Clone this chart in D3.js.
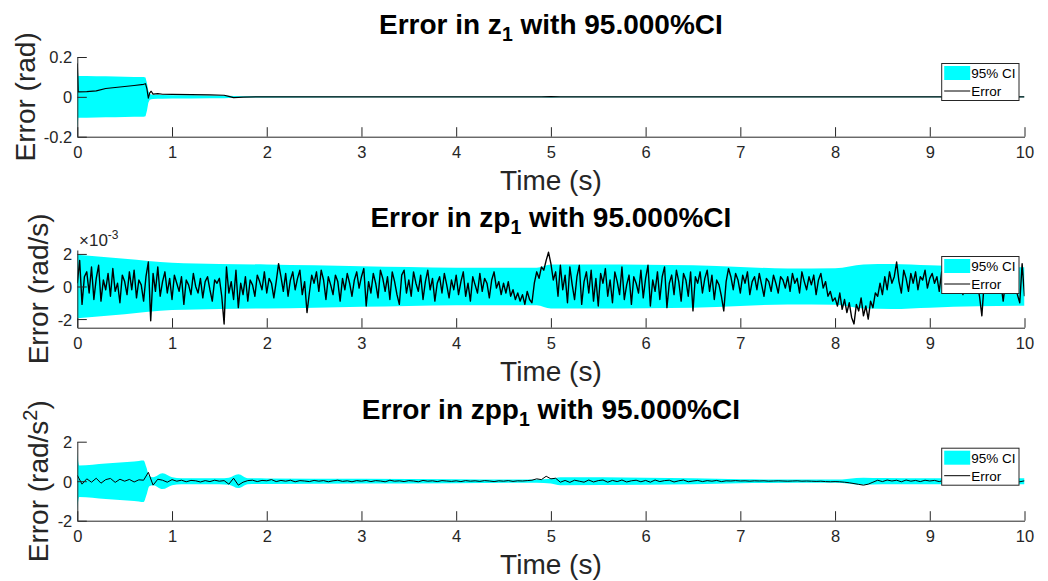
<!DOCTYPE html>
<html>
<head>
<meta charset="utf-8">
<script src="https://cdnjs.cloudflare.com/ajax/libs/d3/7.8.5/d3.min.js"></script>
<style>
	body { margin: 0; background: #fff; }
	svg { display: block; font-family: "Liberation Sans", Arial, Helvetica, sans-serif; }
</style>
</head>
<body>
<svg id="chart" width="1048" height="581"></svg>
<script>
'use strict';

// Shared time axis ticks (s)
var timeTicks = [0, 1, 2, 3, 4, 5, 6, 7, 8, 9, 10];

// Panel 1: error in z1 (rad) and its 95% CI half-width
var z1Time = [0, 0.01, 0.1, 0.2, 0.3, 0.4, 0.5, 0.6, 0.7, 0.72,
	0.735, 0.75, 0.765, 0.78, 0.8, 0.85, 0.9, 1.0, 1.2, 1.4,
	1.55, 1.6, 1.65, 1.75, 2, 3, 4, 4.9, 5.0, 5.1,
	6, 7, 8, 9, 10];
var z1Err = [0.168, 0.025, 0.026, 0.03, 0.042, 0.047, 0.052, 0.057, 0.063, 0.066,
	0.04, -0.006, 0.02, 0.028, 0.014, 0.016, 0.013, 0.012, 0.011, 0.01,
	0.008, 0.002, -0.004, -0.001, 0, 0, 0, 0, 0.001, 0,
	0, 0, 0, 0, 0];
var z1Ci = [0.175, 0.105, 0.105, 0.104, 0.103, 0.102, 0.101, 0.1, 0.1, 0.097,
	0.07, 0.03, 0.015, 0.012, 0.011, 0.01, 0.009, 0.008, 0.008, 0.007,
	0.007, 0.006, 0.004, 0.003, 0.003, 0.002, 0.002, 0.002, 0.003, 0.002,
	0.002, 0.002, 0.002, 0.002, 0.002];

// Panel 2: error in zp1 (x1e-3 rad/s), sampled every 0.025 s
var zpDt = 0.025;
var zpErr = [
	0.2, 1.6, -1.1, 0.6, 0.9, -0.4, 1.2, -0.8, 0.5, 1.3, -0.9, 0.4, -0.2, 0.8, -0.6, 1.1, -0.3, 0.2, -1.0, 0.7,
	0.3, -0.5, 0.9, -0.2, 1.0, -0.7, 0.4, 0.1, -0.9, 0.6, 1.5, -2.1, 0.8, -0.3, 1.2, -0.6, 0.3, 0.9, -0.4, 0.5,
	-0.8, 0.7, 0.2, -0.3, 0.6, -1.1, 0.4, 0.1, -0.5, 0.8, 0.0, -0.4, 0.5, -0.7, 0.3, 0.6, -0.2, -0.9, 0.4, 0.2,
	0.5, -0.6, -2.3, 1.2, -0.4, 0.3, -0.8, 1.0, -1.3, 0.2, -0.5, 0.6, -0.9, 0.4, 0.1, -0.6, 0.7, 0.3, -0.2, 0.9,
	-0.4, 0.5, 0.2, -0.7, 0.3, 1.4, 0.6, -0.3, 0.8, -0.6, 0.4, 0.9, -0.2, 0.5, 1.0, -0.5, 0.3, -1.6, -0.4, 0.7,
	0.2, 0.9, -0.3, 1.0, 0.4, -0.8, 0.6, 0.1, -0.5, 0.7, 0.3, -0.9, 0.5, -0.2, 0.8, 0.2, -0.6, 0.4, 0.9, -0.1,
	0.6, 1.1, -1.2, 0.3, -0.4, 0.8, 0.2, -0.7, 1.0, 0.5, -0.3, 0.6, -0.8, 0.9, 0.3, -0.5, -1.1, 0.7, 1.0, -0.4,
	0.4, -0.6, 0.9, 0.2, -0.3, 0.7, -0.8, 0.3, 1.0, -0.2, 0.5, -0.9, 0.2, 0.6, -0.4, 0.8, 0.1, -0.7, 0.4, -0.2,
	0.7, -0.5, 0.3, 0.9, -0.6, 0.2, -0.9, 0.6, 0.1, -0.4, 0.8, -0.3, 0.5, 0.2, -0.7, 0.4, 0.9, -0.1, 0.3, -0.5,
	0.2, -0.4, 0.3, -0.6, -0.2, -0.8, -0.4, -0.9, -0.5, -1.1, -0.3, -0.8, -1.0, 0.2, 0.9, 0.5, 1.2, 1.0, 1.6, 2.1,
	1.4, 0.4, 0.9, -0.6, 1.3, -0.2, 0.7, -1.0, 1.2, 0.1, -0.8, 0.6, 1.3, -1.1, 0.3, 0.9, -0.4, 1.0, -0.9, 0.5,
	-1.2, 0.8, 0.2, 1.1, -0.6, 0.4, -1.0, 0.9, 0.3, -0.5, 1.2, -0.8, 0.1, 0.7, -1.1, 0.6, 0.2, -0.4, 1.0, -0.7,
	0.5, 1.3, -1.2, 0.4, -0.3, 0.9, -0.8, 0.6, 1.2, -1.3, 0.2, 0.7, -0.5, 1.0, 0.3, -0.9, 0.8, 0.4, -0.6, 0.9,
	-1.5, 0.6, 0.2, 0.9, -0.4, 0.5, 1.0, -0.3, 0.7, -0.8, 0.4, 0.1, -0.6, -1.5, 0.3, 1.1, 0.6, -0.2, 0.8, 0.4,
	-0.4, 0.7, 0.2, 0.9, -0.5, 0.3, 0.6, -0.2, 0.8, 0.1, -0.6, 0.5, 0.3, -0.3, 0.7, 0.2, -0.4, 0.6, 0.4, -0.1,
	0.6, -0.3, 0.8, 0.2, 0.5, -0.4, 0.9, 0.3, -0.2, 0.6, 0.1, 0.7, -0.5, 0.4, 0.8, -0.1, 0.3, -0.6, -0.3, -0.9,
	-0.7, -1.2, -0.4, -1.4, -0.8, -1.6, -1.0, -1.9, -2.3, -1.1, -1.5, -0.7, -1.8, -1.2, -2.0, -0.9, -1.3, -0.4, -0.6, 0.2,
	-0.5, 0.6, -0.2, 0.9, 0.2, 0.6, 1.5, 0.3, -0.4, 1.0, 0.5, -0.3, 0.8, 0.2, 0.9, -0.2, 0.6, 0.4, 1.0, -0.1,
	0.5, 0.8, 0.2, 0.6, -0.3, 0.9, 0.4, 0.1, 0.7, 0.3, -0.2, 0.5, 0.8, 0.2, -0.5, 0.4, 0.6, 0.0, 0.3, -0.4,
	0.2, -0.6, -1.8, 0.3, 0.5, -0.2, 0.4, 0.1, -0.3, 0.6, 0.2, -0.9, 0.3, 0.5, -0.4, 0.2, 0.6, -0.5, -1.0, 1.4,
	-0.6
];
var zpCiTime = [0, 0.5, 1, 1.5, 2, 2.5, 3, 3.5, 4, 4.5, 4.85, 5.0, 5.5, 6, 6.5, 7, 7.5, 8, 8.3, 8.6, 9, 9.5, 10];
var zpCi = [1.95, 1.7, 1.45, 1.38, 1.35, 1.3, 1.25, 1.2, 1.15, 1.15, 1.15, 1.35, 1.35, 1.33, 1.3, 1.2, 1.1, 1.12, 1.35, 1.38, 1.3, 1.22, 1.18];

// Panel 3: error in zpp1 (rad/s^2), sampled every 0.05 s
var zppDt = 0.05;
var zppErr = [
	0.3, -0.15, 0.12, -0.05, 0.15, -0.1, 0.08, 0.14, -0.06, 0.1, 0.0, 0.09, -0.04, 0.07, 0.05, 0.45, -0.2, 0.1, 0.05, -0.05,
	0.08, 0.0, 0.05, -0.03, 0.04, 0.02, -0.04, 0.03, -0.02, 0.05, 0.0, 0.03, -0.15, 0.15, -0.2, -0.05, 0.03, 0.05, -0.02, 0.04,
	0.02, 0.08, -0.02, 0.04, 0.0, 0.05, -0.03, 0.03, 0.01, -0.02, 0.04, 0.0, 0.03, -0.03, 0.02, 0.05, -0.01, 0.02, -0.03, 0.03,
	0.0, 0.04, -0.02, 0.03, 0.01, -0.03, 0.05, 0.0, 0.02, -0.02, 0.03, 0.01, -0.03, 0.04, 0.0, 0.02, -0.02, 0.03, 0.01, -0.01,
	0.02, -0.02, 0.03, 0.0, 0.02, -0.01, 0.03, 0.01, -0.02, 0.02, 0.0, 0.03, -0.01, 0.02, 0.01, 0.03, 0.05, 0.12, 0.08, 0.25,
	0.12, 0.15, -0.05, 0.04, -0.06, 0.05, 0.0, -0.05, 0.06, -0.04, 0.03, 0.06, -0.05, 0.04, -0.02, 0.06, -0.04, 0.02, 0.05, -0.03,
	0.04, -0.05, 0.06, -0.02, 0.03, 0.05, -0.04, 0.02, 0.06, -0.03, 0.01, 0.04, -0.02, 0.03, 0.0, 0.04, -0.02, 0.02, 0.01, 0.03,
	0.01, 0.02, 0.0, 0.02, 0.01, 0.02, 0.0, 0.01, 0.02, 0.01, 0.0, 0.01, 0.02, 0.0, 0.01, 0.0, -0.01, 0.0, -0.02, -0.03,
	-0.02, -0.03, -0.05, -0.08, -0.12, -0.16, -0.2, -0.15, -0.05, 0.05, -0.02, 0.06, 0.01, 0.05, -0.03, 0.06, 0.0, 0.04, -0.02, 0.05,
	0.01, 0.04, -0.02, 0.05, 0.0, 0.03, -0.02, 0.04, 0.01, 0.03, 0.0, 0.02, 0.01, 0.03, 0.0, 0.02, 0.04, -0.02, 0.06, -0.03,
	0.02
];
var zppCiTime = [0, 0.005, 0.02, 0.3, 0.6, 0.7, 0.73, 0.76, 0.8, 0.9, 1.0, 1.1, 1.5, 1.6, 1.7, 1.8, 2, 3, 4, 4.85, 5.0, 5.1, 6, 6.5, 7, 8, 8.3, 8.5, 9, 10];
var zppCi = [1.5, 1.2, 0.8, 0.9, 1.0, 1.05, 0.7, 0.25, 0.2, 0.4, 0.2, 0.15, 0.15, 0.18, 0.35, 0.15, 0.14, 0.12, 0.1, 0.08, 0.12, 0.2, 0.18, 0.15, 0.1, 0.08, 0.18, 0.16, 0.15, 0.15];

var legendLabels = ['95% CI', 'Error'];



function toPoints(times, values) {
	return values.map(function(v, i) { return {t: times[i], v: v}; });
}
function sampled(dt, values) {
	return values.map(function(v, i) { return {t: i * dt, v: v}; });
}

var panels = [
	{
		name: 'z', top: 57, bottom: 136.7, yDomain: [-0.2, 0.2], yTicks: [-0.2, 0, 0.2],
		err: toPoints(z1Time, z1Err), ci: toPoints(z1Time, z1Ci), curve: d3.curveLinear,
		ylabel: ['Error (rad)'], ylabelX: 35, lineWidth: 1.2
	},
	{
		name: 'zp', top: 250, bottom: 327.7, yDomain: [-2.53, 2.24], yTicks: [-2, 0, 2],
		err: sampled(zpDt, zpErr), ci: toPoints(zpCiTime, zpCi), curve: d3.curveMonotoneX,
		ylabel: ['Error (rad/s)'], ylabelX: 48, lineWidth: 1.4, exponent: true
	},
	{
		name: 'zpp', top: 441.7, bottom: 520.7, yDomain: [-2, 2], yTicks: [-2, 0, 2],
		err: sampled(zppDt, zppErr), ci: toPoints(zppCiTime, zppCi), curve: d3.curveMonotoneX,
		ylabel: ['Error (rad/s', '2', ')'], ylabelX: 48, lineWidth: 1
	}
];

var svg = d3.select('#chart');
var axisColor = '#262626';
var x = d3.scaleLinear().domain([0, 10]).range([77.3, 1024.5]);

panels.forEach(function(p, k) {

	var y = d3.scaleLinear().domain(p.yDomain).range([p.bottom, p.top]);
	var g = svg.append('g').attr('class', 'panel ' + p.name);

	// Clip marks to the axes box.
	g.append('clipPath').attr('id', 'clip' + k)
		.append('rect')
		.attr('x', x(0)).attr('y', p.top)
		.attr('width', x(10) - x(0)).attr('height', p.bottom - p.top);

	var marks = g.append('g').attr('clip-path', 'url(#clip' + k + ')');

	// CI band
	marks.append('path')
		.datum(p.ci)
		.attr('fill', '#00ffff')
		.attr('d', d3.area()
			.curve(p.curve)
			.x(function(d) { return x(d.t); })
			.y0(function(d) { return y(-d.v); })
			.y1(function(d) { return y(d.v); }));

	// Error line
	marks.append('path')
		.datum(p.err)
		.attr('fill', 'none')
		.attr('stroke', '#000')
		.attr('stroke-width', p.lineWidth)
		.attr('stroke-linejoin', 'round')
		.attr('d', d3.line()
			.x(function(d) { return x(d.t); })
			.y(function(d) { return y(d.v); }));

	// Axes, ticks pointing inward
	var xAxis = g.append('g')
		.attr('transform', 'translate(0,' + p.bottom + ')')
		.call(d3.axisBottom(x).tickValues(timeTicks).tickSizeInner(-9.5).tickSizeOuter(0).tickPadding(10)
			.tickFormat(d3.format('d')));
	var yAxis = g.append('g')
		.attr('transform', 'translate(' + x(0) + ',0)')
		.call(d3.axisLeft(y).tickValues(p.yTicks).tickSizeInner(-9.5).tickSizeOuter(0).tickPadding(5)
			.tickFormat(function(d) { return String(d).replace('\u2212', '-'); }));

	[xAxis, yAxis].forEach(function(a) {
		a.select('.domain').attr('stroke', axisColor).attr('stroke-width', 1);
		a.selectAll('.tick line').attr('stroke', axisColor).attr('stroke-width', 1);
		a.selectAll('.tick text').attr('fill', axisColor).attr('font-size', 16.5)
			.attr('font-family', '"Liberation Sans", Arial, sans-serif');
	});
	xAxis.selectAll('.tick text').attr('dy', 0).attr('y', 21.8);
	yAxis.selectAll('.tick text').attr('dy', '0.36em');

	// Exponent label
	if (p.exponent) {
		var ex = g.append('text').attr('x', 79).attr('y', p.top - 4)
			.attr('font-size', 17).attr('fill', axisColor).text('\u00d710');
		ex.append('tspan').attr('dy', -7).attr('font-size', 12).text('-3');
	}

	// X label
	g.append('text')
		.attr('x', (x(0) + x(10)) / 2).attr('y', p.bottom + 53)
		.attr('text-anchor', 'middle').attr('font-size', 28).attr('fill', axisColor)
		.text('Time (s)');

	// Y label
	var yl = g.append('text')
		.attr('transform', 'translate(' + p.ylabelX + ',' + (p.top + p.bottom) / 2 + ') rotate(-90)')
		.attr('text-anchor', 'middle').attr('font-size', 28).attr('fill', axisColor)
		.text(p.ylabel[0]);
	if (p.ylabel.length > 1) {
		yl.append('tspan').attr('dy', -11).attr('font-size', 20).text(p.ylabel[1]);
		yl.append('tspan').attr('dy', 11).text(p.ylabel[2]);
	}

	// Title with subscript
	var title = g.append('text')
		.attr('x', (x(0) + x(10)) / 2).attr('y', p.top - 23)
		.attr('text-anchor', 'middle').attr('font-size', 28).attr('font-weight', 'bold').attr('fill', '#000')
		.text('Error in ' + p.name);
	title.append('tspan').attr('dy', 7).attr('font-size', 19.5).text('1');
	title.append('tspan').attr('dy', -7).text(' with 95.000%CI');

	// Legend, north-east
	var lg = g.append('g').attr('transform', 'translate(941.7,' + (p.top + 6.5) + ')');
	lg.append('rect').attr('width', 77.3).attr('height', 37)
		.attr('fill', '#fff').attr('stroke', '#262626').attr('stroke-width', 1);
	lg.append('rect').attr('x', 2.5).attr('y', 2.5).attr('width', 26).attr('height', 14).attr('fill', '#00ffff');
	lg.append('line').attr('x1', 2.5).attr('x2', 28.5).attr('y1', 27.5).attr('y2', 27.5)
		.attr('stroke', '#000').attr('stroke-width', 1);
	lg.selectAll('text.lbl').data(legendLabels).enter().append('text')
		.attr('class', 'lbl')
		.attr('x', 29.5).attr('y', function(d, i) { return i === 0 ? 14.5 : 32.5; })
		.attr('font-size', 13.5).attr('fill', '#000')
		.text(function(d) { return d; });
});
</script>
</body>
</html>
